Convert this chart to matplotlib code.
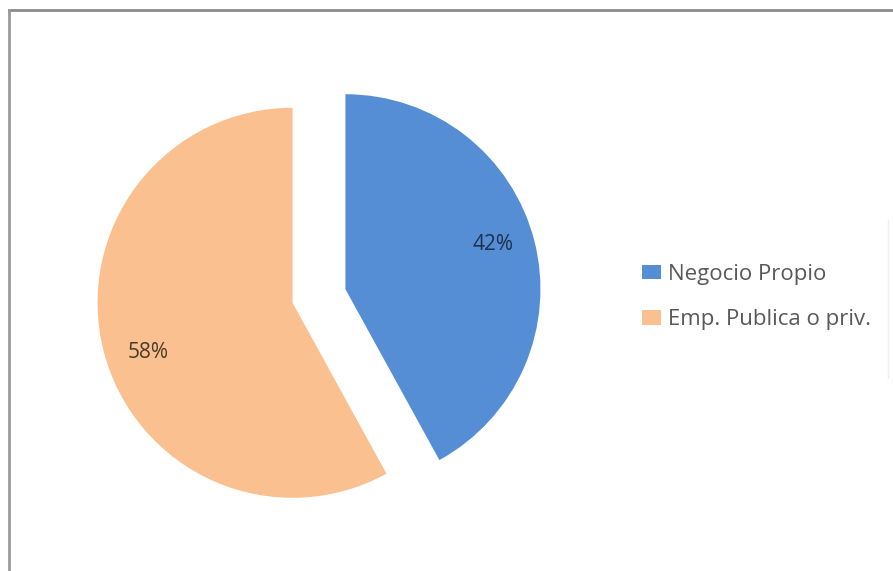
import matplotlib.pyplot as plt
from matplotlib.lines import Line2D

labels = ["Negocio Propio", "Emp. Publica o priv."]
values = [42, 58]
colors = ["#558ED5", "#FAC090"]

W, H = 893, 571
fig = plt.figure(figsize=(W / 100, H / 100), dpi=100)
plt.rcParams['font.family'] = ['Open Sans', 'DejaVu Sans']

# pie centre ~ (319, 296) px, radius 195 px
cx, cy, r = 319, 296, 195
side = 3 * r
ax = fig.add_axes([(cx - side / 2) / W, (H - cy - side / 2) / H, side / W, side / H])
wedges, texts, autotexts = ax.pie(values, colors=colors, startangle=90, counterclock=False,
                                  explode=[0.14, 0.14], autopct='%1.0f%%', pctdistance=0.8,
                                  textprops={'fontsize': 15})
# small nudges to match the original label placement
nudges = [(-0.02, 0.028), (0.036, -0.056)]
for t, (dx, dy) in zip(autotexts, nudges):
    x, y = t.get_position()
    t.set_position((x + dx, y + dy))
autotexts[0].set_color('#1F2F4F')
autotexts[1].set_color('#4A3A2A')
ax.set_xlim(-1.5, 1.5)
ax.set_ylim(-1.5, 1.5)
ax.set_aspect('equal')
ax.axis('off')

leg = fig.legend(wedges, labels, loc='center left', bbox_to_anchor=(642 / W, 1 - 297 / H),
                 frameon=False, fontsize=16, handlelength=0.85, handleheight=0.65,
                 handletextpad=0.3, labelspacing=1.1, borderpad=0, borderaxespad=0)
for t in leg.get_texts():
    t.set_color('#595959')

# chart border (top and left visible)
fig.add_artist(Line2D([9 / W, 1], [1 - 10 / H, 1 - 10 / H], transform=fig.transFigure,
                      color='#8C8C8C', lw=2))
fig.add_artist(Line2D([9 / W, 9 / W], [0, 1 - 10 / H], transform=fig.transFigure,
                      color='#9A9A9A', lw=2))
fig.add_artist(Line2D([888 / W, 888 / W], [1 - 378 / H, 1 - 220 / H], transform=fig.transFigure,
                      color='#EEEEEE', lw=1))

fig.savefig('out.png', dpi=100)
